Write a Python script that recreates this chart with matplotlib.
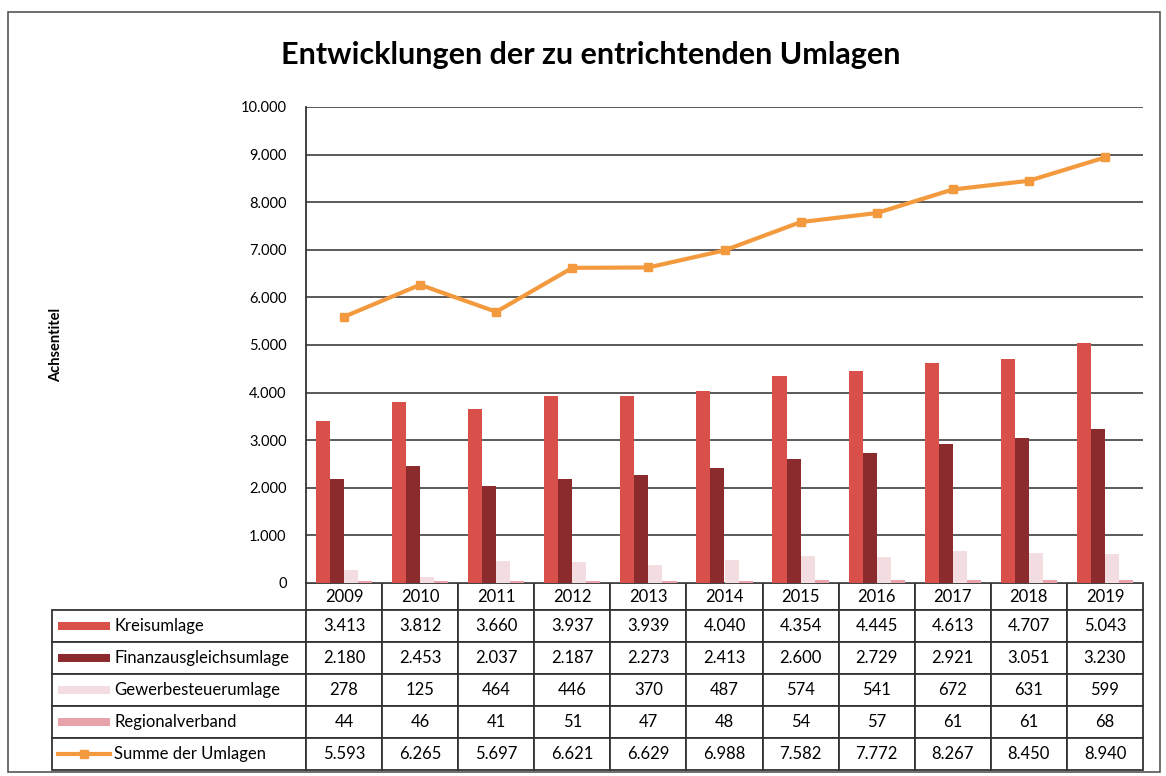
import matplotlib
matplotlib.use("Agg")
import matplotlib.pyplot as plt
from matplotlib.patches import Rectangle
from matplotlib.lines import Line2D
import numpy as np

jahre = ["2009", "2010", "2011", "2012", "2013", "2014", "2015", "2016", "2017", "2018", "2019"]
kreisumlage = [3413, 3812, 3660, 3937, 3939, 4040, 4354, 4445, 4613, 4707, 5043]
finanzausgleich = [2180, 2453, 2037, 2187, 2273, 2413, 2600, 2729, 2921, 3051, 3230]
gewerbesteuer = [278, 125, 464, 446, 370, 487, 574, 541, 672, 631, 599]
regionalverband = [44, 46, 41, 51, 47, 48, 54, 57, 61, 61, 68]
summe = [5593, 6265, 5697, 6621, 6629, 6988, 7582, 7772, 8267, 8450, 8940]

namen = ["Kreisumlage", "Finanzausgleichsumlage", "Gewerbesteuerumlage",
         "Regionalverband", "Summe der Umlagen"]
farben = ["#d94f4a", "#8c2b2d", "#f4dde0", "#e8a3aa", "#f39a3f"]

plt.rcParams["font.family"] = ["Lato", "DejaVu Sans"]


def de(v):
    return f"{v:,}".replace(",", ".")


W, H = 1166, 776
fig = plt.figure(figsize=(W / 100, H / 100), dpi=100)
ax = fig.add_axes([306 / W, 1 - 583 / H, 837 / W, 476 / H])

x = np.arange(len(jahre))
bw = 0.185
balken = [kreisumlage, finanzausgleich, gewerbesteuer, regionalverband]
for i, werte in enumerate(balken):
    ax.bar(x + (i - 1.5) * bw, werte, width=bw, color=farben[i], zorder=3)
ax.plot(x, summe, color=farben[4], lw=3, marker="s", ms=6, zorder=4)

ax.set_xlim(-0.5, len(jahre) - 0.5)
ax.set_ylim(0, 10000)
ax.set_yticks(range(0, 10001, 1000))
ax.set_yticklabels([de(v) for v in range(0, 10001, 1000)], fontsize=10.5)
ax.set_xticks([])
ax.tick_params(axis="y", length=0, pad=14)
ax.grid(axis="y", color="#5a5a5a", lw=1.4, zorder=0)
for s in ["top", "right", "bottom"]:
    ax.spines[s].set_visible(False)
ax.spines["left"].set_color("#333333")
ax.spines["left"].set_linewidth(1.3)
ax.set_ylabel("Achsentitel", fontsize=10.5, fontweight="bold", labelpad=0)
ax.yaxis.set_label_coords(-0.29, 0.5)

fig.text(591 / W, 1 - 55 / H, "Entwicklungen der zu entrichtenden Umlagen",
         fontsize=22, fontweight="bold", ha="center", va="center")

# Datentabelle
zeilen = [kreisumlage, finanzausgleich, gewerbesteuer, regionalverband, summe]
zellen = [[""] + jahre] + [[""] + [de(v) for v in z] for z in zeilen]
lw_col = 254 / 837
tab = ax.table(cellText=zellen, cellLoc="center",
               colWidths=[lw_col] + [1 / 11] * 11,
               bbox=[-lw_col, -187 / 476, 1 + lw_col, 187 / 476])
tab.auto_set_font_size(False)
tab.set_fontsize(12)
for (r, c), cell in tab.get_celld().items():
    cell.set_edgecolor("#333333")
    cell.set_linewidth(1.3)
    cell.set_height(27 if r == 0 else 32)
tab[0, 0].visible_edges = "open"
tab[0, 0].set_linewidth(0)

fig.canvas.draw()
px = 1 / 837
py = 1 / 476
for r, name in enumerate(namen, start=1):
    cell = tab[r, 0]
    cx, cy, ch = cell.get_x(), cell.get_y(), cell.get_height()
    ym = cy + ch / 2
    if r < 5:
        ax.add_patch(Rectangle((cx + 6 * px, ym - 4 * py), 52 * px, 8 * py,
                               facecolor=farben[r - 1], edgecolor="none",
                               transform=ax.transAxes, clip_on=False))
    else:
        ax.add_line(Line2D([cx + 6 * px, cx + 58 * px], [ym, ym], color=farben[4],
                           lw=3, transform=ax.transAxes, clip_on=False))
        ax.add_line(Line2D([cx + 32 * px], [ym], color=farben[4], marker="s", ms=6,
                           transform=ax.transAxes, clip_on=False))
    ax.text(cx + 62 * px, ym, name, fontsize=12, ha="left", va="center",
            transform=ax.transAxes)

fig.patches.append(Rectangle((8 / W, 1 - 772 / H), 1152 / W, 760 / H, fill=False,
                             edgecolor="#555555", lw=1.2, transform=fig.transFigure))

fig.savefig("out.png", dpi=100)
